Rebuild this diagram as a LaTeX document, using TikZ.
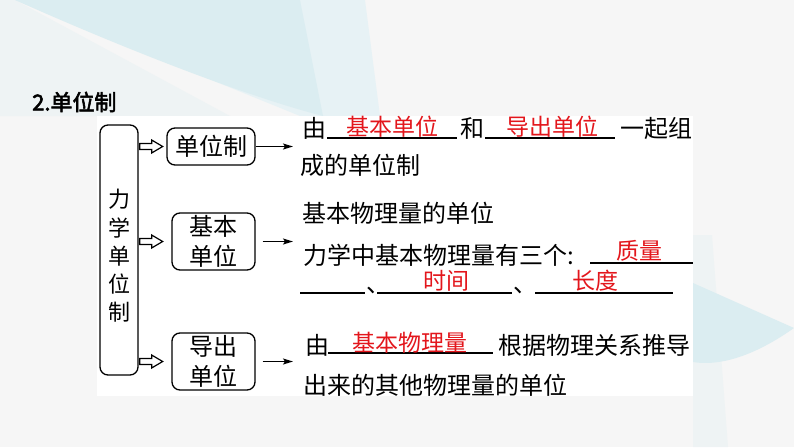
\documentclass[tikz,border=0pt]{standalone}
\usepackage{fontspec}
\setmainfont{Noto Sans CJK SC}
\newfontfamily\titlefont[FakeBold=2.5]{Noto Sans CJK SC}
\usetikzlibrary{arrows.meta,calc}
\definecolor{bgc}{HTML}{F6F6F6}
\definecolor{tealA}{HTML}{DBEDF1}
\definecolor{tealB}{HTML}{E7F2F5}
\definecolor{tealC}{HTML}{EEF3F4}
\definecolor{ansred}{HTML}{E3161C}
\tikzset{
  txt/.style={inner sep=0pt, anchor=west, font=\fontsize{24}{28}\selectfont},
  ans/.style={inner sep=0pt, text=ansred, font=\fontsize{23}{28}\selectfont},
  blank/.style={line width=1.3pt},
  rbox/.style={draw, line width=1.3pt, rounded corners=8pt, inner sep=0pt, align=center,
    font=\fontsize{24}{30}\selectfont},
  thinarrow/.style={line width=1.4pt, -{Stealth[length=10pt,width=6pt,inset=2pt]}},
  hollowarrow/.style={draw, line width=1.2pt, fill=white, line join=miter}
}
\begin{document}
\begin{tikzpicture}[x=1pt,y=-1pt]
\useasboundingbox (0,0) rectangle (794,447);
% background
\fill[bgc] (0,0) rectangle (794,447);
\fill[tealC] (0,0) -- (15,0) -- (230,116) -- (0,116) -- cycle;
\fill[tealB] (15,0) -- (365,0) -- (380,116) -- (300,116) -- cycle;
\fill[tealA] (15,0) -- (300,0) -- (323,116) .. controls (260,100) and (150,60) .. (15,0) -- cycle;
\fill[tealC] (693,235) -- (712,235) -- (728,447) -- (693,447) -- cycle;
\fill[tealA] (693,283) -- (794,328) .. controls (770,345) and (730,368) .. (693,362) -- cycle;
% white panel
\fill[white] (97,116) rectangle (693,396);

% title
\node[inner sep=0pt, anchor=west, font=\titlefont\fontsize{22}{24}\selectfont] (title) at (32,102) {2.单位制};

% left box
\node[draw, line width=1.3pt, rounded corners=8pt, minimum width=38pt, minimum height=250pt, inner sep=0pt] (L) at (119,250) {};
\node[inner sep=0pt, align=center, font=\fontsize{22}{28.2}\selectfont] (Lt) at (119,256) {力\\学\\单\\位\\制};

% middle boxes
\node[rbox, minimum width=88pt, minimum height=37pt] (B1) at (211,146.5) {单位制};
\node[rbox, minimum width=83pt, minimum height=57pt] (B2) at (213.5,241.5) {基本\\单位};
\node[rbox, minimum width=83pt, minimum height=57pt] (B3) at (213.5,361.5) {导出\\单位};

% hollow arrows
\foreach \b in {B1,B2,B3}{
  \draw[hollowarrow] (L.east |- \b) ++(1,-3) -- ++(12,0) -- ++(0,-3.5) -- ++(11,6.5) -- ++(-11,6.5) -- ++(0,-3.5) -- ++(-12,0) -- cycle;
}

% thin arrows
\coordinate (t1) at (293,146.5);
\coordinate (t2) at (293,241.5);
\coordinate (t3) at (293,361.5);
\draw[thinarrow] (B1.east) -- (t1);
\draw[thinarrow] ([xshift=7pt]B2.east) -- (t2);
\draw[thinarrow] ([xshift=7pt]B3.east) -- (t3);

% row 1
\node[txt] (r1a) at (302,128) {由};
\coordinate (u1a) at (327,138); \coordinate (u1b) at (457,138);
\draw[blank] (u1a) -- (u1b);
\node[ans] (a1) at (392,127) {基本单位};
\node[txt] (r1b) at (460,128) {和};
\coordinate (u2a) at (485,138); \coordinate (u2b) at (615,138);
\draw[blank] (u2a) -- (u2b);
\node[ans] (a2) at (552,127) {导出单位};
\node[txt] (r1c) at (620,128) {一起组};
% row 2
\node[txt] (r2) at (300,165) {成的单位制};
% row 3
\node[txt] (r3) at (302,213) {基本物理量的单位};
% row 4
\node[txt] (r4) at (303,255) {力学中基本物理量有三个:};
\coordinate (u4a) at (590,263); \coordinate (u4b) at (693,263);
\draw[blank] (u4a) -- (u4b);
\node[ans] (a4) at (639,251) {质量};
% row 5
\coordinate (u5a) at (300,293); \coordinate (u5b) at (365,293);
\draw[blank] (u5a) -- (u5b);
\node[txt] (c51) at (366,283) {\vphantom{中}、};
\coordinate (u6a) at (377,293); \coordinate (u6b) at (512,293);
\draw[blank] (u6a) -- (u6b);
\node[ans] (a5) at (446,281) {时间};
\node[txt] (c52) at (513,283) {\vphantom{中}、};
\coordinate (u7a) at (535,293); \coordinate (u7b) at (673,293);
\draw[blank] (u7a) -- (u7b);
\node[ans] (a6) at (595,281) {长度};
% row 6
\node[txt] (r6a) at (305,345) {由};
\coordinate (u8a) at (328,353); \coordinate (u8b) at (493,353);
\draw[blank] (u8a) -- (u8b);
\node[ans] (a7) at (410,343) {基本物理量};
\node[txt] (r6b) at (498,345) {根据物理关系推导};
% row 7
\node[txt] (r7) at (303,385) {出来的其他物理量的单位};
\end{tikzpicture}
\end{document}
